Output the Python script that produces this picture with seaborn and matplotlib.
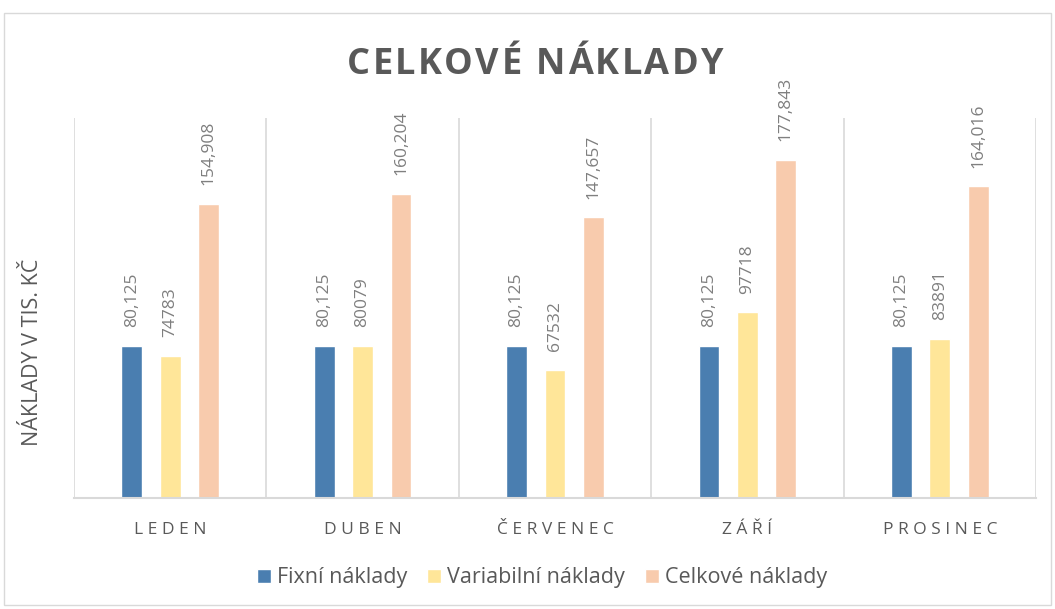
import matplotlib
matplotlib.use("Agg")
import matplotlib.pyplot as plt
import seaborn as sns
import pandas as pd
from matplotlib.patches import Rectangle

months = ["LEDEN", "DUBEN", "ČERVENEC", "ZÁŘÍ", "PROSINEC"]
series = ["Fixní náklady", "Variabilní náklady", "Celkové náklady"]
fixed = [80125, 80125, 80125, 80125, 80125]
variable = [74783, 80079, 67532, 97718, 83891]
total = [154908, 160204, 147657, 177843, 164016]
colors = ["#4A7EB0", "#FFE699", "#F8CBAD"]
title = "CELKOVÉ NÁKLADY"

rows = []
for i, m in enumerate(months):
    rows.append((m, series[0], fixed[i]))
    rows.append((m, series[1], variable[i]))
    rows.append((m, series[2], total[i]))
df = pd.DataFrame(rows, columns=["month", "series", "value"])

sns.set_theme(style="white")
plt.rcParams["font.family"] = ["Open Sans", "DejaVu Sans"]

W, H = 1055, 609
fig = plt.figure(figsize=(W / 100, H / 100), dpi=100)
fig.patches.append(Rectangle((4/W, 4/H), 1047/W, 592/H, transform=fig.transFigure,
                             fill=False, edgecolor="#D9D9D9", linewidth=1.0))
ax = fig.add_axes([74/W, 1 - 498/H, (1036 - 74)/W, (498 - 118)/H])

sns.barplot(data=df, x="month", y="value", hue="series", palette=colors,
            width=0.6, gap=0.46, ax=ax, legend=True, saturation=1)

ax.set_ylim(0, 200000)
ax.set_xlim(-0.5, len(months) - 0.5)

# data labels
fmts = ["{:,.0f}", "{:.0f}", "{:,.0f}"]
for cont, fmt in zip(ax.containers, fmts):
    labels = [fmt.format(b.get_height()) for b in cont]
    ax.bar_label(cont, labels=labels, rotation=90, padding=13.5, fontsize=12.5, color="#7F7F7F")

# category separators
for xb in range(len(months) + 1):
    ax.axvline(xb - 0.5, color="#D9D9D9", linewidth=1.2, zorder=0)

for s in ["top", "left", "right"]:
    ax.spines[s].set_visible(False)
ax.spines["bottom"].set_color("#D9D9D9")
ax.spines["bottom"].set_linewidth(1.5)
ax.set_yticks([])
ax.tick_params(axis="x", length=0, pad=17)
ax.set_xticks(range(len(months)))
ax.set_xticklabels([" ".join(list(m)) for m in months], fontsize=12.5, color="#595959")
ax.set_xlabel("")
ax.set_ylabel("")
fig.text(33/W, 1 - 352/H, "NÁKLADY V TIS. KČ", rotation=90, ha="center", va="center",
         fontsize=15.5, color="#595959")

# letter-spaced title
renderer = fig.canvas.get_renderer()
tkw = dict(fontsize=26, fontweight="bold", color="#595959", va="baseline", ha="left")
chars = list(title)
objs = [fig.text(0, 1 - 74/H, c, **tkw) for c in chars]
widths = [o.get_window_extent(renderer).width for o in objs]
target_w = 376.0
spacing = (target_w - sum(widths)) / (len(chars) - 1)
xpos = 535 - target_w / 2
for o, w in zip(objs, widths):
    o.set_x(xpos / W)
    xpos += w + spacing

handles, labels = ax.get_legend_handles_labels()
ax.legend_.remove()
fig.legend(handles, labels, loc="center", bbox_to_anchor=(542/W, 1 - 578/H), ncol=3,
           frameon=False, fontsize=15.5, handlelength=0.65, handleheight=0.65,
           handletextpad=0.3, columnspacing=0.9, labelcolor="#595959")

fig.savefig("out.png", dpi=100)
